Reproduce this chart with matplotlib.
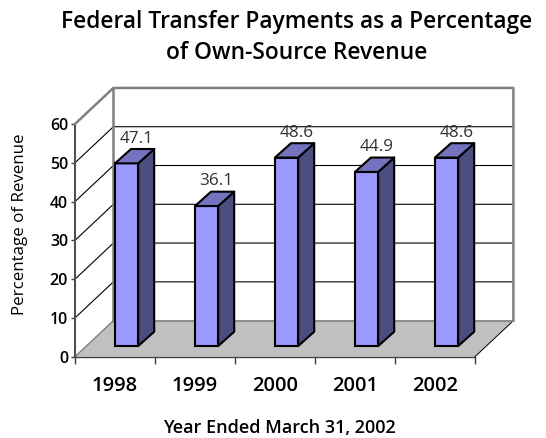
import matplotlib
matplotlib.use('Agg')
import matplotlib.pyplot as plt
from matplotlib.patches import Polygon

years = ['1998', '1999', '2000', '2001', '2002']
values = [47.1, 36.1, 48.6, 44.9, 48.6]
yticks = [0, 10, 20, 30, 40, 50, 60]

plt.rcParams['font.family'] = ['Open Sans', 'DejaVu Sans']

W, H = 546, 438
fig = plt.figure(figsize=(W / 100, H / 100), dpi=100)
ax = fig.add_axes([75 / W, 1 - 356.7 / H, 400 / W, 232.7 / H])
ax.set_xlim(0, 5)
ax.set_ylim(0, 60)
ax.patch.set_visible(False)

# oblique offset of the back wall, in data units
dx, dy = 0.48, 9.3
gray = '#808080'

# floor
ax.add_patch(Polygon([(0, 0), (5, 0), (5 + dx, dy), (dx, dy)], fc='#c0c0c0', ec='none', clip_on=False, zorder=1))

# gridlines on the wall and the side
for v in yticks[1:-1]:
    ax.plot([0, dx, 5 + dx], [v, v + dy, v + dy], color='black', lw=0.8, clip_on=False, zorder=2)
ax.plot([0, dx], [0, dy], color=gray, lw=1, clip_on=False, zorder=2)
ax.plot([5, 5 + dx], [0, dy], color='black', lw=0.7, clip_on=False, zorder=2)
ax.plot([dx, 5 + dx], [dy, dy], color=gray, lw=1.2, clip_on=False, zorder=2)

# wall frame
ax.plot([0, dx, 5 + dx, 5 + dx], [60, 60 + dy, 60 + dy, dy], color=gray, lw=1.8, clip_on=False, zorder=3)
ax.plot([dx, dx], [dy, 60 + dy], color=gray, lw=1.8, clip_on=False, zorder=3)

# bars
bar_l, bar_w = 0.5, 0.29
bdx, bdy = 0.2, 3.7
base = 2.75
for i, (yr, v) in enumerate(zip(years, values)):
    l = i + bar_l
    r = l + bar_w
    top = base + v
    ax.bar(l, v, bar_w, bottom=base, align='edge', color='#9999ff', edgecolor='black', lw=1.5, zorder=5, clip_on=False)
    ax.add_patch(Polygon([(r, base), (r + bdx, base + bdy), (r + bdx, top + bdy), (r, top)],
                         fc='#4d4d80', ec='black', lw=1.5, joinstyle='round', clip_on=False, zorder=5))
    ax.add_patch(Polygon([(l, top), (l + bdx, top + bdy), (r + bdx, top + bdy), (r, top)],
                         fc='#7373bf', ec='black', lw=1.5, joinstyle='round', clip_on=False, zorder=5))
    ax.text(i + 0.77, top + bdy + 0.6, '%.1f' % v, ha='center', va='bottom', fontsize=12.3, color='#333333', zorder=6)

for s in ['top', 'right']:
    ax.spines[s].set_visible(False)
ax.spines['left'].set_color('#505050')
ax.spines['left'].set_linewidth(1.5)
ax.spines['bottom'].set_color('#404040')
ax.spines['bottom'].set_linewidth(1)

ax.set_yticks(yticks)
ax.set_yticklabels([str(v) for v in yticks], fontsize=11.5, fontweight='semibold')
ax.tick_params(axis='y', length=3, width=1, color='#404040', pad=2)
ax.set_xticks(range(6))
ax.set_xticklabels([])
ax.tick_params(axis='x', length=5, width=1, color='#404040')
ax.set_xticks([i + 0.5 for i in range(5)], minor=True)
ax.set_xticklabels(years, minor=True, fontsize=14.5, fontweight='semibold')
ax.tick_params(axis='x', which='minor', length=0, pad=14)

fig.text(297 / W, 1 - 22 / H, 'Federal Transfer Payments as a Percentage', ha='center', va='center', fontsize=16.4, fontweight='semibold')
fig.text(297 / W, 1 - 53 / H, 'of Own-Source Revenue', ha='center', va='center', fontsize=16.4, fontweight='semibold')
fig.text(20 / W, 1 - 224 / H, 'Percentage of Revenue', rotation=90, ha='center', va='center', fontsize=12.2, fontweight='medium')
fig.text(279.5 / W, 1 - 428 / H, 'Year Ended March 31, 2002', ha='center', va='center', fontsize=13, fontweight='semibold')

fig.savefig('out.png', dpi=100)
